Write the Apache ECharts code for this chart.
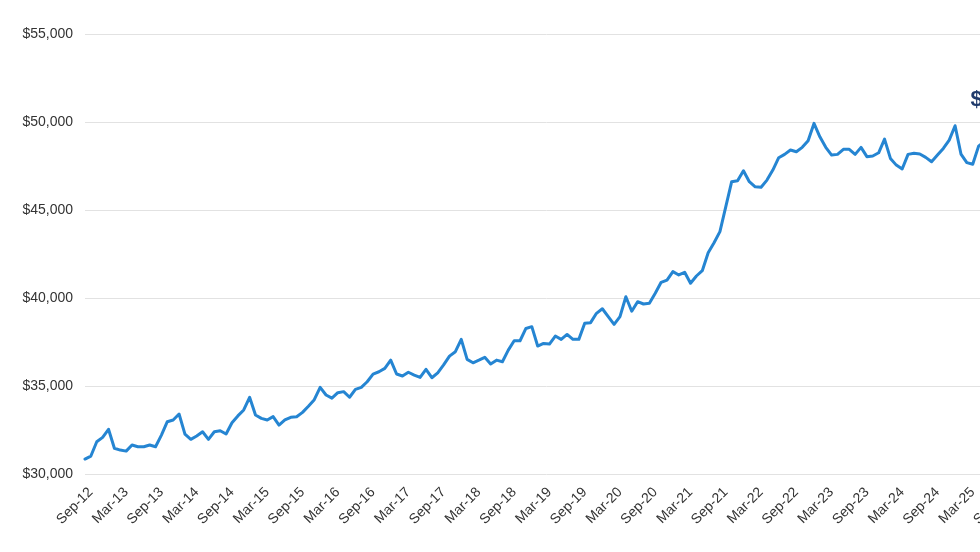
<!DOCTYPE html>
<html>
<head>
<meta charset="utf-8">
<script src="https://cdn.jsdelivr.net/npm/echarts@6/dist/echarts.min.js"></script>
<style>
html,body{margin:0;padding:0;background:#fff;overflow:hidden;width:980px;height:552px;}
#chart{width:1040px;height:552px;}
</style>
</head>
<body>
<div id="chart"></div>
<script>
// Monthly categories Aug-12 .. Sep-25
const monthNames = ['Jan','Feb','Mar','Apr','May','Jun','Jul','Aug','Sep','Oct','Nov','Dec'];
const startYear = 2012, startMonth = 7, monthCount = 158;
const categories = [];
for (let i = 0; i < monthCount; i++) {
  const m = (startMonth + i) % 12;
  const y = startYear + Math.floor((startMonth + i) / 12);
  categories.push(monthNames[m] + '-' + String(y % 100).padStart(2, '0'));
}

// Values (Aug-12 .. May-25)
const values = [
  30850, 31020, 31830, 32080, 32540, 31460, 31360, 31300, 31650, 31550, 31550, 31650,
  31550, 32210, 32970, 33070, 33410, 32270, 31970, 32160, 32400, 31970, 32400, 32460,
  32270, 32910, 33300, 33640, 34360, 33350, 33160, 33070, 33260, 32780, 33070, 33220,
  33250, 33500, 33850, 34220, 34920, 34490, 34310, 34620, 34680, 34360, 34810, 34920,
  35240, 35680, 35810, 36000, 36470, 35680, 35570, 35780, 35620, 35490, 35950, 35470,
  35750, 36200, 36700, 36950, 37650, 36510, 36320, 36470, 36630, 36250, 36470, 36380,
  37040, 37570, 37570, 38270, 38370, 37270, 37420, 37380, 37840, 37650, 37930, 37650,
  37650, 38560, 38600, 39130, 39390, 38940, 38500, 38940, 40070, 39250, 39790, 39660,
  39700, 40270, 40890, 41020, 41500, 41310, 41460, 40840, 41250, 41550, 42570, 43140,
  43770, 45190, 46610, 46660, 47230, 46610, 46320, 46290, 46700, 47270, 47970, 48160,
  48410, 48310, 48560, 48940, 49920, 49160, 48560, 48120, 48160, 48450, 48450, 48160,
  48560, 48030, 48070, 48250, 49030, 47930, 47550, 47330, 48160, 48220, 48180, 47990,
  47740, 48120, 48500, 48970, 49790, 48180, 47690, 47600, 48630, 48900
];

const yTicks = { min: 30000, max: 55000, interval: 5000 };
const lastIndex = values.length - 1;

const fmt = v => '$' + v.toLocaleString('en-US');

const chart = echarts.init(document.getElementById('chart'), null, { renderer: 'canvas' });
chart.setOption({
  animation: false,
  backgroundColor: '#ffffff',
  grid: { left: 85, right: 32, top: 34, bottom: 78, containLabel: false },
  xAxis: {
    type: 'category',
    data: categories,
    boundaryGap: false,
    axisLine: { show: false },
    axisTick: { show: false },
    splitLine: { show: false },
    axisLabel: {
      interval: (idx, val) => val.startsWith('Sep') || val.startsWith('Mar'),
      rotate: 45,
      margin: 16,
      color: '#333333',
      fontSize: 14,
      fontFamily: 'Liberation Sans, Arial, sans-serif'
    }
  },
  yAxis: {
    type: 'value',
    min: yTicks.min,
    max: yTicks.max,
    interval: yTicks.interval,
    axisLine: { show: false },
    axisTick: { show: false },
    splitLine: { lineStyle: { color: '#e2e2e2', width: 1 } },
    axisLabel: {
      margin: 12,
      color: '#333333',
      fontSize: 14,
      fontFamily: 'Liberation Sans, Arial, sans-serif',
      formatter: v => fmt(v)
    }
  },
  series: [{
    type: 'line',
    data: values,
    showSymbol: false,
    symbol: 'none',
    lineStyle: { color: '#2585d2', width: 3, join: 'round', cap: 'round' },
    itemStyle: { color: '#2585d2' },
    markPoint: {
      symbol: 'circle',
      symbolSize: 1,
      itemStyle: { color: 'rgba(0,0,0,0)' },
      data: [{
        coord: [categories[lastIndex], values[lastIndex]],
        value: values[lastIndex],
        label: {
          show: true,
          position: 'inside',
          align: 'left',
          verticalAlign: 'middle',
          offset: [-14, -41],
          formatter: p => fmt(p.value),
          color: '#1f3a6b',
          fontWeight: 'bold',
          fontSize: 22,
          fontFamily: 'Liberation Sans, Arial, sans-serif'
        }
      }]
    }
  }]
});
</script>
</body>
</html>
